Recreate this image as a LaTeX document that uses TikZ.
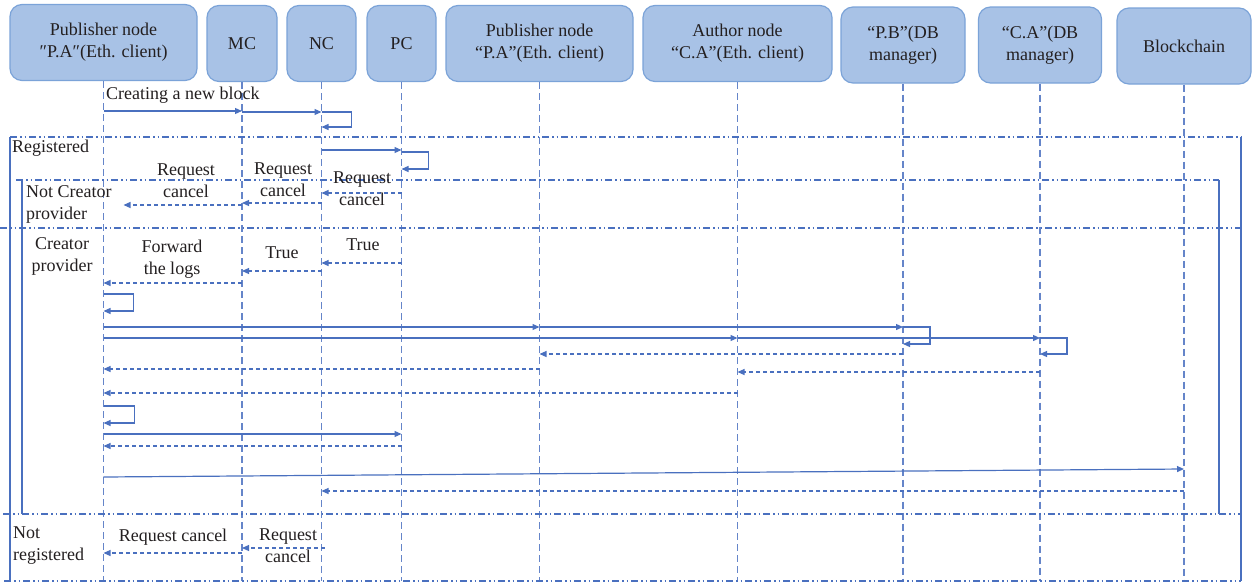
\documentclass[tikz,border=0pt]{standalone}
\usepackage{fontspec}
\setmainfont{Liberation Serif}
\usetikzlibrary{arrows.meta,calc}
\definecolor{hdrfill}{HTML}{A8C2E6}
\definecolor{hdrline}{HTML}{7BA3D8}
\definecolor{seqblue}{HTML}{4A70BF}
\definecolor{txt}{HTML}{231F20}

\begin{document}
\begin{tikzpicture}[x=1pt,y=-1pt,
  font=\fontsize{18}{22}\selectfont, text=txt,
  header/.style={draw=hdrline, fill=hdrfill, line width=1.2pt, rounded corners=12pt,
                 align=center, inner sep=0pt, minimum height=76pt},
  lifeline/.style={draw=seqblue!85, line width=1.3pt, dash pattern=on 7pt off 4pt},
  call/.style={draw=seqblue, line width=1.2pt, -{Triangle[length=7pt,width=6pt]}},
  reply/.style={call, dash pattern=on 4pt off 3pt},
  fragline/.style={draw=seqblue, line width=1.2pt,
                   dash pattern=on 7pt off 3pt on 1.5pt off 3pt on 1.5pt off 3pt},
  fragside/.style={draw=seqblue, line width=1.2pt},
  lbl/.style={align=center, inner sep=0pt},
  lbll/.style={align=left, inner sep=0pt, anchor=west},
]
\useasboundingbox (0,0) rectangle (1252,584);

% participants
\node[header, minimum width=187pt] (pa)  at (103.5,42.5) {Publisher node\\″P.A″(Eth. client)};
\node[header, minimum width=70pt]  (mc)  at (242,43.5)   {MC};
\node[header, minimum width=69pt]  (nc)  at (321.5,43.5) {NC};
\node[header, minimum width=69pt]  (pc)  at (401.5,43.5) {PC};
\node[header, minimum width=187pt] (pub) at (539.5,43.5) {Publisher node\\“P.A”(Eth. client)};
\node[header, minimum width=189pt] (au)  at (737.5,43.5) {Author node\\“C.A”(Eth. client)};
\node[header, minimum width=124pt] (pbd) at (903,45)     {“P.B”(DB\\manager)};
\node[header, minimum width=123pt] (cad) at (1040,45)    {“C.A”(DB\\manager)};
\node[header, minimum width=134pt] (bc)  at (1184,46)    {Blockchain};

% lifelines
\foreach \p in {pa,mc,nc,pc,pub,au,pbd,cad,bc}
  \draw[lifeline] (\p.south) -- (\p |- 0,581);

% combined fragments
\draw[fragside] (10,137) -- (10,581);
\draw[fragside] (1241,137) -- (1241,581);
\draw[fragline] (10,137) -- (1241,137);
\draw[fragline] (4,581) -- (1241,581);
\draw[fragline] (3,514) -- (1241,514);
\draw[fragline] (0,228) -- (1241,228);
\draw[fragside] (22,180) -- (22,514);
\draw[fragside] (1219,180) -- (1219,514);
\draw[fragline] (16,180) -- (1219,180);

\node[lbll] (fRegistered) at (12,148) {Registered};
\node[lbll] (fNotCreator) at (26,204.5) {Not Creator\\provider};
\node[lbl]  (fCreator)    at (62,256.5) {Creator\\provider};
\node[lbll] (fNotReg)     at (13,546) {Not\\registered};

% creating a new block
\node[lbll] (mNew) at (106,95) {Creating a new block};
\draw[call] (pa |- 0,111) -- (mc |- 0,111);
\draw[call] (mc |- 0,112) -- (nc |- 0,112);
\draw[call] (nc |- 0,112) -- ++(30,0) -- ++(0,15) -- (nc |- 0,127);

% registered
\draw[call] (nc |- 0,150) -- (pc |- 0,150);
\draw[call] (pc |- 0,152) -- ++(27,0) -- ++(0,17) -- (pc |- 0,169);

% not creator provider
\draw[reply] (pc |- 0,193) -- (nc |- 0,193);
\node[lbl] (mRc3) at (362,189) {Request\\cancel};
\draw[reply] (nc |- 0,203) -- (mc |- 0,203);
\node[lbl] (mRc2) at (283,179.5) {Request\\cancel};
\draw[reply] (mc |- 0,205) -- ($(pa |- 0,205)+(20,0)$);
\node[lbl] (mRc1) at (186,181) {Request\\cancel};

% creator provider
\draw[reply] (pc |- 0,263) -- (nc |- 0,263);
\node[lbl] (mTrue2) at (363,245) {True};
\draw[reply] (nc |- 0,271) -- (mc |- 0,271);
\node[lbl] (mTrue1) at (282,253) {True};
\draw[reply] (mc |- 0,283) -- (pa |- 0,283);
\node[lbl] (mFwd) at (172,259) {Forward\\the logs};

\draw[call] (pa |- 0,294) -- ++(30,0) -- ++(0,17) -- (pa |- 0,311);

\draw[call] (pa |- 0,327) -- (pub |- 0,327);
\draw[call] (pub |- 0,327) -- (pbd |- 0,327);
\draw[call] (pbd |- 0,327) -- ++(27,0) -- ++(0,17) -- (pbd |- 0,344);
\draw[call] (pa |- 0,338) -- (au |- 0,338);
\draw[call] (au |- 0,338) -- (cad |- 0,338);
\draw[call] (cad |- 0,338) -- ++(27,0) -- ++(0,16) -- (cad |- 0,354);

\draw[reply] (pbd |- 0,354) -- (pub |- 0,354);
\draw[reply] (pub |- 0,369) -- (pa |- 0,369);
\draw[reply] (cad |- 0,372) -- (au |- 0,372);
\draw[reply] (au |- 0,393) -- (pa |- 0,393);

\draw[call] (pa |- 0,406) -- ++(31,0) -- ++(0,17) -- (pa |- 0,423);
\draw[call] (pa |- 0,434) -- (pc |- 0,434);
\draw[reply] (pc |- 0,446) -- (pa |- 0,446);

\draw[call] (pa |- 0,477) -- (bc |- 0,469);
\draw[reply] (bc |- 0,491) -- (nc |- 0,491);

% not registered
\draw[reply] ($(nc |- 0,548)+(3,0)$) -- (mc |- 0,548);
\node[lbl] (mRc5) at (288,546) {Request\\cancel};
\draw[reply] (mc |- 0,553) -- (pa |- 0,553);
\node[lbl] (mRc4) at (173,537) {Request cancel};
\end{tikzpicture}
\end{document}
